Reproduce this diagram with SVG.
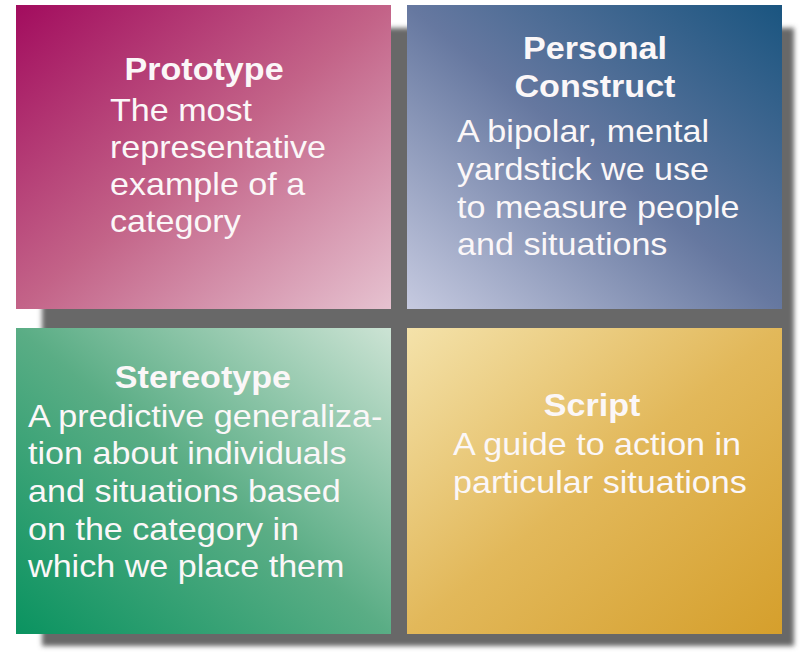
<svg xmlns="http://www.w3.org/2000/svg" width="804" height="655" viewBox="0 0 804 655">
  <defs>
    <filter id="blur" x="-5%" y="-5%" width="110%" height="110%">
      <feGaussianBlur stdDeviation="2.5"/>
    </filter>
    <linearGradient id="gProto" x1="0" y1="0" x2="1" y2="1">
      <stop offset="0" stop-color="#a20c5e"/>
      <stop offset="0.5" stop-color="#c36388"/>
      <stop offset="1" stop-color="#e6c2d0"/>
    </linearGradient>
    <linearGradient id="gPers" x1="1" y1="0" x2="0" y2="1">
      <stop offset="0" stop-color="#1a5580"/>
      <stop offset="0.5" stop-color="#6678a0"/>
      <stop offset="1" stop-color="#c6cae0"/>
    </linearGradient>
    <linearGradient id="gStereo" x1="0" y1="1" x2="1" y2="0">
      <stop offset="0" stop-color="#0a9360"/>
      <stop offset="0.5" stop-color="#5aad85"/>
      <stop offset="1" stop-color="#cce3d4"/>
    </linearGradient>
    <linearGradient id="gScript" x1="0" y1="0" x2="1" y2="1">
      <stop offset="0" stop-color="#f4e2aa"/>
      <stop offset="0.5" stop-color="#e2b85a"/>
      <stop offset="1" stop-color="#d59f2c"/>
    </linearGradient>
  </defs>
  <style>
    text { font-family: "Liberation Sans", Arial, sans-serif; font-size: 31px; fill: #fbf7f8; }
    .title { font-weight: bold; text-anchor: middle; }
    .box { stroke: none; }
  </style>
  <rect width="804" height="655" fill="#ffffff"/>
  <rect x="42" y="28" width="752" height="618" fill="#686868" filter="url(#blur)"/>

  <g id="prototype">
    <rect class="box" x="16" y="5" width="375" height="304" fill="url(#gProto)"/>
    <g transform="scale(1.1,1)">
      <text class="title" x="185.5" y="80">Prototype</text>
      <text x="100" y="121">The most</text>
      <text x="100" y="158">representative</text>
      <text x="100" y="195">example of a</text>
      <text x="100" y="232">category</text>
    </g>
  </g>

  <g id="personal-construct">
    <rect class="box" x="407" y="5" width="375" height="304" fill="url(#gPers)"/>
    <g transform="scale(1.1,1)">
      <text class="title" x="540.9" y="59">Personal</text>
      <text class="title" x="540.9" y="97">Construct</text>
      <text x="415.5" y="142">A bipolar, mental</text>
      <text x="415.5" y="180">yardstick we use</text>
      <text x="415.5" y="218">to measure people</text>
      <text x="415.5" y="255">and situations</text>
    </g>
  </g>

  <g id="stereotype">
    <rect class="box" x="16" y="328" width="375" height="306" fill="url(#gStereo)"/>
    <g transform="scale(1.1,1)">
      <text class="title" x="184.5" y="388">Stereotype</text>
      <text x="25.5" y="427">A predictive generaliza-</text>
      <text x="25.5" y="464">tion about individuals</text>
      <text x="25.5" y="502">and situations based</text>
      <text x="25.5" y="540">on the category in</text>
      <text x="25.5" y="577">which we place them</text>
    </g>
  </g>

  <g id="script">
    <rect class="box" x="407" y="328" width="375" height="306" fill="url(#gScript)"/>
    <g transform="scale(1.1,1)">
      <text class="title" x="538.2" y="416">Script</text>
      <text x="411.8" y="455">A guide to action in</text>
      <text x="411.8" y="493">particular situations</text>
    </g>
  </g>

  <g id="connectors"/>
</svg>
